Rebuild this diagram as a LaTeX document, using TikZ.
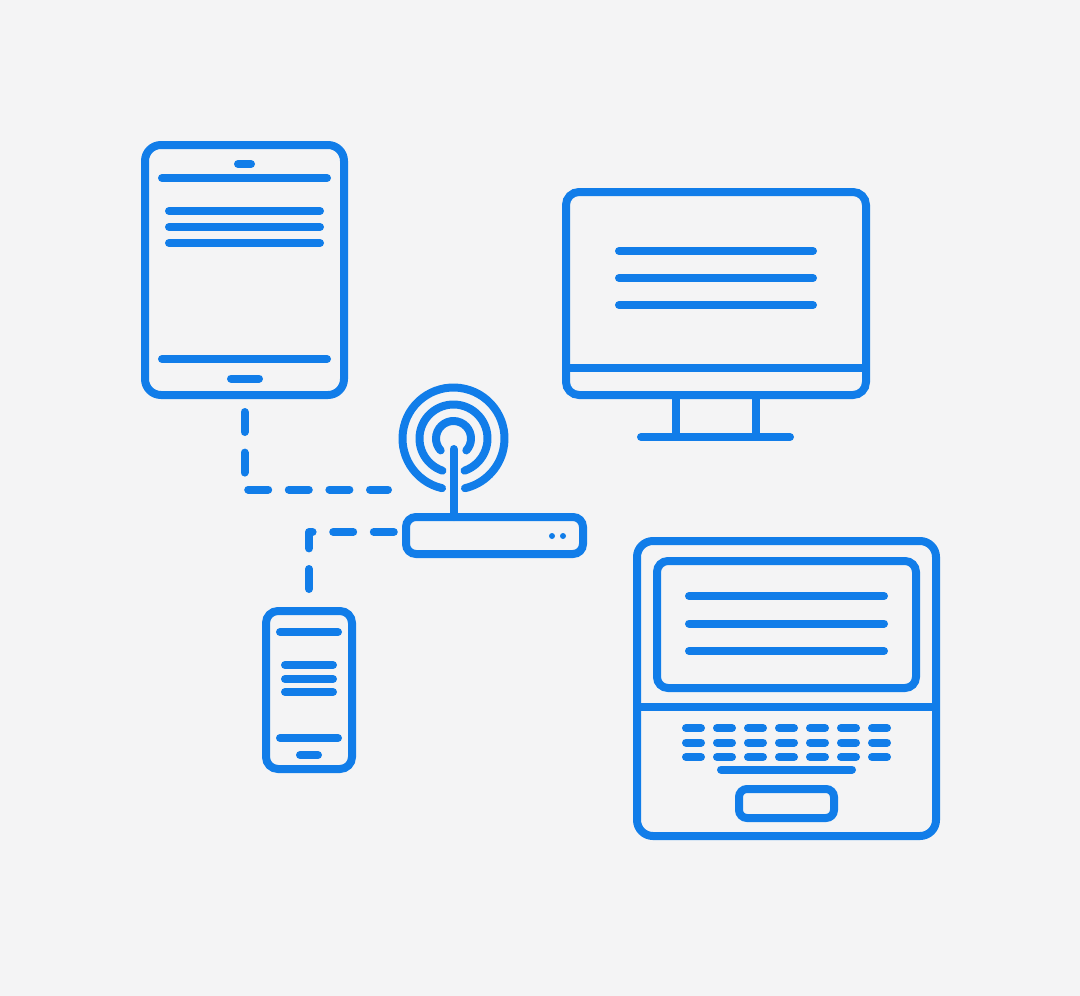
\documentclass[tikz,border=0pt]{standalone}
\usepackage{amsmath, amssymb}
\definecolor{iconblue}{HTML}{117DE9}
\definecolor{paper}{HTML}{F4F4F5}
\tikzset{
	device/.style={draw=iconblue, line width=8pt, rounded corners=#1, inner sep=0pt, outer sep=0pt},
	bar/.style={draw=iconblue, line width=8pt, line cap=round, line join=round},
	keycap/.style={draw=iconblue, line width=8pt, line cap=round},
	link/.style={bar, dash pattern=on 20pt off 20.6pt}
}
\begin{document}
\begin{tikzpicture}[x=1pt, y=-1pt]
			\fill[paper] (0,0) rectangle (1080,996);
			\node[device=16pt, minimum width=199pt, minimum height=250pt] (tablet) at (244.5,270) {};
			\node[device=13pt, minimum width=300pt, minimum height=203pt] (monitor) at (716,293.5) {};
			\node[device=16pt, minimum width=299pt, minimum height=295pt] (laptop) at (786.5,688.5) {};
			\node[device=11pt, minimum width=259pt, minimum height=127pt] (screen) at (786.5,624.5) {};
			\node[device=8pt, minimum width=95pt, minimum height=29pt] (touchpad) at (786.5,803.5) {};
			\node[device=12pt, minimum width=86pt, minimum height=158pt] (phone) at (309,690) {};
			\node[device=10pt, minimum width=177pt, minimum height=37pt] (router) at (494.5,535.5) {};
			\coordinate (signal) at (453.5,438.5);
			\coordinate (antennatip) at (453.5,449);
			\coordinate (tabletend) at (388,489.5);
			\coordinate (routerend) at (394,532);
			\draw[link, shorten <=17pt] (tablet.south) |- (tabletend);
			\draw[link, shorten <=22pt] (phone.north) |- (routerend);
			\draw[bar] (antennatip) -- (antennatip |- router.north);
			\draw[bar] (signal) ++(103:51) arc (103:437:51);
			\draw[bar] (signal) ++(109:34) arc (109:431:34);
			\draw[bar] (signal) ++(137:17.5) arc (137:403:17.5);
			\fill[iconblue] (552,536) circle (3) (563,536) circle (3);
			\draw[bar] (238,164) -- (251,164);
			\draw[bar] (162,178) -- (327,178);
			\draw[bar] (169,211) -- (320,211);
			\draw[bar] (169,227) -- (320,227);
			\draw[bar] (169,243) -- (320,243);
			\draw[bar] (162,359) -- (327,359);
			\draw[bar] (231,378.5) -- (259,378.5);
			\draw[bar] (619,251) -- (813,251);
			\draw[bar] (619,278) -- (813,278);
			\draw[bar] (619,305) -- (813,305);
			\draw[bar, line cap=butt] (monitor.west |- 0,367.5) -- (monitor.east |- 0,367.5);
			\draw[bar, line cap=butt] (676,395) -- (676,437);
			\draw[bar, line cap=butt] (756,395) -- (756,437);
			\draw[bar] (641,437) -- (790,437);
			\draw[bar] (689,596) -- (884,596);
			\draw[bar] (689,623.5) -- (884,623.5);
			\draw[bar] (689,651) -- (884,651);
			\draw[bar, line cap=butt] (laptop.west |- 0,707) -- (laptop.east |- 0,707);
			\foreach \keyrow in {728,742.5,757} {
				\foreach \keyleft in {686,717,748,779,810,841,872} {
					\draw[keycap] (\keyleft,\keyrow) -- (\keyleft+15,\keyrow);
				}
			}
			\draw[bar] (721,769.5) -- (852,769.5);
			\draw[bar] (280,632) -- (338,632);
			\draw[bar] (285,665) -- (333,665);
			\draw[bar] (285,679) -- (333,679);
			\draw[bar] (285,692) -- (333,692);
			\draw[bar] (280,738) -- (338,738);
			\draw[bar] (300,755) -- (318,755);
		\end{tikzpicture}
\end{document}
